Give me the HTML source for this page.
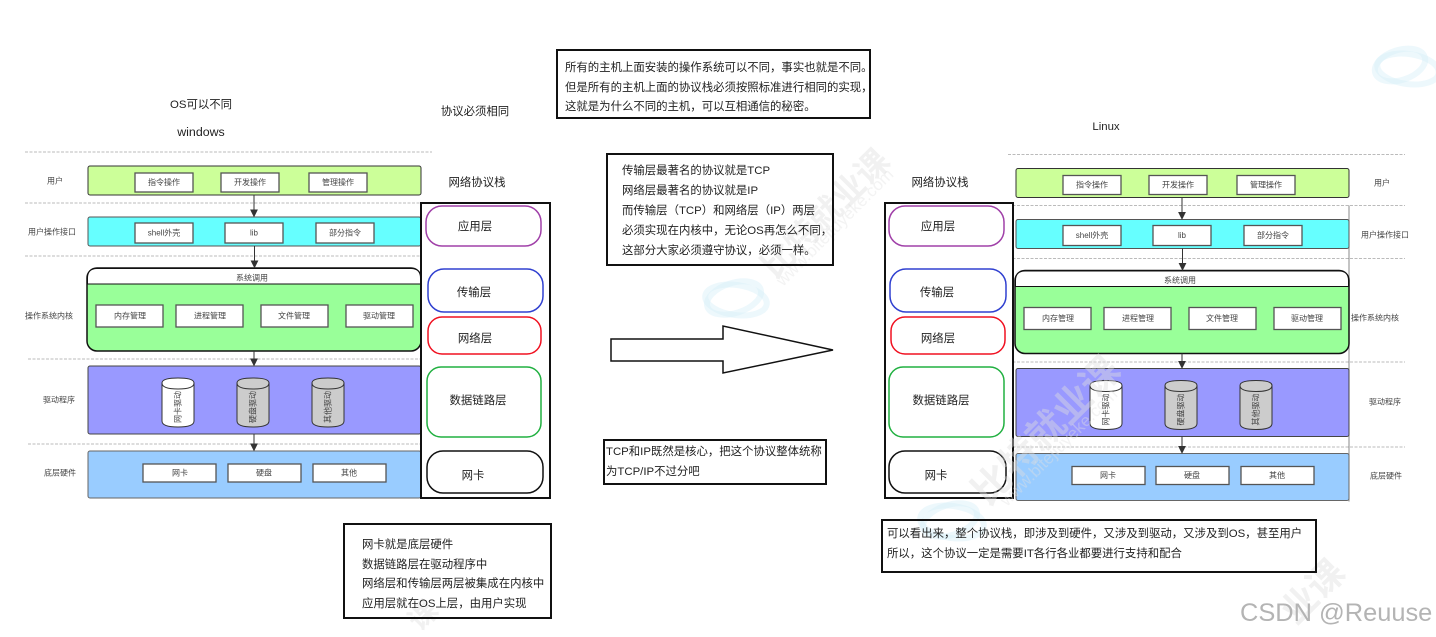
<!DOCTYPE html>
<html><head><meta charset="utf-8">
<style>
html,body{margin:0;padding:0;background:#fff;width:1436px;height:637px;overflow:hidden}
svg{display:block}
text{font-family:"Liberation Sans","Noto Sans CJK SC",sans-serif;fill:#222}
.s{font-size:8px;fill:#444;text-anchor:middle;dominant-baseline:central}
.m{font-size:11.4px;dominant-baseline:central;transform:translateY(1px)}
.c{font-size:11.4px;text-anchor:middle;dominant-baseline:central;transform:translateY(1px)}
.b{fill:#fff;stroke:#555;stroke-width:1.3}
.d{stroke:#bbb;stroke-width:1;stroke-dasharray:3 1.5;fill:none}
.bar{stroke:#333;stroke-width:1}
.t{fill:none;stroke:#111;stroke-width:2}
.w{font-weight:bold;fill:rgba(222,222,222,.42)}
.u{fill:rgba(225,225,225,.4);font-size:17px}
.a{stroke:#333;stroke-width:1;fill:none}
</style></head><body>
<svg width="1436" height="637" viewBox="0 0 1436 637" xmlns="http://www.w3.org/2000/svg">
<defs><marker id="ah" markerWidth="8" markerHeight="8" refX="5" refY="3" orient="auto" markerUnits="userSpaceOnUse" viewBox="0 0 6 6"><path d="M0 0L6 3L0 6z" fill="#333"/></marker></defs>

<!-- left diagram -->
<g>
<path class="d" d="M25 152H432M25 203H420M25 256H420M28 359H420M28 444H420"/>
<rect class="bar" x="88" y="166" width="333" height="29" rx="2" fill="#ccff99"/>
<rect class="b" x="135" y="173" width="58" height="19"/><text class="s" x="164" y="182.5">指令操作</text>
<rect class="b" x="221" y="173" width="58" height="19"/><text class="s" x="250" y="182.5">开发操作</text>
<rect class="b" x="309" y="173" width="58" height="19"/><text class="s" x="338" y="182.5">管理操作</text>
<rect x="88" y="217" width="333" height="29" rx="2" fill="#66ffff" stroke="#555"/>
<rect class="b" x="135" y="223" width="58" height="20"/><text class="s" x="164" y="233">shell外壳</text>
<rect class="b" x="225" y="223" width="58" height="20"/><text class="s" x="254" y="233">lib</text>
<rect class="b" x="316" y="223" width="58" height="20"/><text class="s" x="345" y="233">部分指令</text>
<rect x="87" y="268" width="334" height="83" rx="10" fill="#99ff99" stroke="#111" stroke-width="1.5"/>
<path d="M87.5 284V278Q87.5 268.500 97 268.500H411Q420.500 268.500 420.500 278V284Z" fill="#fff" stroke="#111"/>
<text class="s" x="252" y="278">系统调用</text>
<rect class="b" x="96" y="305" width="67" height="22"/><text class="s" x="130" y="316">内存管理</text>
<rect class="b" x="176" y="305" width="67" height="22"/><text class="s" x="210" y="316">进程管理</text>
<rect class="b" x="261" y="305" width="67" height="22"/><text class="s" x="294" y="316">文件管理</text>
<rect class="b" x="346" y="305" width="67" height="22"/><text class="s" x="379" y="316">驱动管理</text>
<rect x="88" y="366" width="333" height="68" rx="2" fill="#9999ff" stroke="#444"/>
<path d="M162 383V421Q162 427 178 427Q194 427 194 421V383Q194 378 178 378Q162 378 162 383ZM162 383Q162 389 178 389Q194 389 194 383" fill="#fff" stroke="#333"/>
<path d="M237 383V421Q237 427 253 427Q269 427 269 421V383Q269 378 253 378Q237 378 237 383ZM237 383Q237 389 253 389Q269 389 269 383" fill="#ccc" stroke="#333"/>
<path d="M312 383V421Q312 427 328 427Q344 427 344 421V383Q344 378 328 378Q312 378 312 383ZM312 383Q312 389 328 389Q344 389 344 383" fill="#ccc" stroke="#333"/>
<text class="s" transform="translate(178,407) rotate(-90)">网卡驱动</text>
<text class="s" transform="translate(253,407) rotate(-90)">硬盘驱动</text>
<text class="s" transform="translate(328,407) rotate(-90)">其他驱动</text>
<rect x="88" y="451" width="333" height="47" rx="2" fill="#99ccff" stroke="#666"/>
<rect class="b" x="143" y="464" width="73" height="18"/><text class="s" x="180" y="473">网卡</text>
<rect class="b" x="228" y="464" width="73" height="18"/><text class="s" x="264" y="473">硬盘</text>
<rect class="b" x="313" y="464" width="73" height="18"/><text class="s" x="349" y="473">其他</text>
<path class="a" d="M254 195V216" marker-end="url(#ah)"/><path class="a" d="M254.500 246V267" marker-end="url(#ah)"/><path class="a" d="M254 351V365" marker-end="url(#ah)"/><path class="a" d="M254 434V450" marker-end="url(#ah)"/>
<text class="s" x="55" y="181">用户</text><text class="s" x="52" y="232">用户操作接口</text><text class="s" x="49" y="316">操作系统内核</text><text class="s" x="59" y="400">驱动程序</text><text class="s" x="60" y="473">底层硬件</text>
</g>

<!-- right diagram -->
<g transform="translate(928,2.500)">
<path class="d" d="M80 152H477M80 203H477M80 256H477M80 359.500H477M80 444.500H477"/>
<path d="M421 203V499" stroke="#888" fill="none"/>
<rect class="bar" x="88" y="166" width="333" height="29" rx="2" fill="#ccff99"/>
<rect class="b" x="135" y="173" width="58" height="19"/><text class="s" x="164" y="182.5">指令操作</text>
<rect class="b" x="221" y="173" width="58" height="19"/><text class="s" x="250" y="182.5">开发操作</text>
<rect class="b" x="309" y="173" width="58" height="19"/><text class="s" x="338" y="182.5">管理操作</text>
<rect x="88" y="217" width="333" height="29" rx="2" fill="#66ffff" stroke="#555"/>
<rect class="b" x="135" y="223" width="58" height="20"/><text class="s" x="164" y="233">shell外壳</text>
<rect class="b" x="225" y="223" width="58" height="20"/><text class="s" x="254" y="233">lib</text>
<rect class="b" x="316" y="223" width="58" height="20"/><text class="s" x="345" y="233">部分指令</text>
<rect x="87" y="268" width="334" height="83" rx="10" fill="#99ff99" stroke="#111" stroke-width="1.5"/>
<path d="M87.5 284V278Q87.5 268.500 97 268.500H411Q420.500 268.500 420.500 278V284Z" fill="#fff" stroke="#111"/>
<text class="s" x="252" y="278">系统调用</text>
<rect class="b" x="96" y="305" width="67" height="22"/><text class="s" x="130" y="316">内存管理</text>
<rect class="b" x="176" y="305" width="67" height="22"/><text class="s" x="210" y="316">进程管理</text>
<rect class="b" x="261" y="305" width="67" height="22"/><text class="s" x="294" y="316">文件管理</text>
<rect class="b" x="346" y="305" width="67" height="22"/><text class="s" x="379" y="316">驱动管理</text>
<rect x="88" y="366" width="333" height="68" rx="2" fill="#9999ff" stroke="#444"/>
<path d="M162 383V421Q162 427 178 427Q194 427 194 421V383Q194 378 178 378Q162 378 162 383ZM162 383Q162 389 178 389Q194 389 194 383" fill="#fff" stroke="#333"/>
<path d="M237 383V421Q237 427 253 427Q269 427 269 421V383Q269 378 253 378Q237 378 237 383ZM237 383Q237 389 253 389Q269 389 269 383" fill="#ccc" stroke="#333"/>
<path d="M312 383V421Q312 427 328 427Q344 427 344 421V383Q344 378 328 378Q312 378 312 383ZM312 383Q312 389 328 389Q344 389 344 383" fill="#ccc" stroke="#333"/>
<rect x="88" y="451" width="333" height="47" rx="2" fill="#99ccff" stroke="#666"/>
<rect class="b" x="144" y="464" width="73" height="18"/><text class="s" x="180" y="473">网卡</text>
<rect class="b" x="228" y="464" width="73" height="18"/><text class="s" x="264" y="473">硬盘</text>
<rect class="b" x="313" y="464" width="73" height="18"/><text class="s" x="349" y="473">其他</text>
<path class="a" d="M254 195V216" marker-end="url(#ah)"/><path class="a" d="M254.500 246V267" marker-end="url(#ah)"/><path class="a" d="M254 351V365" marker-end="url(#ah)"/><path class="a" d="M254 434V450" marker-end="url(#ah)"/>
<text class="s" x="454" y="180.500">用户</text><text class="s" x="457" y="232.500">用户操作接口</text><text class="s" x="447" y="315.500">操作系统内核</text><text class="s" x="457" y="399.500">驱动程序</text><text class="s" x="458" y="473.500">底层硬件</text>
</g>

<!-- left stack -->
<rect x="421" y="203" width="129" height="295" fill="#fff" stroke="#111" stroke-width="2"/>
<rect x="426" y="206" width="115" height="40" rx="16" fill="#fff" stroke="#a040a8" stroke-width="1.500"/>
<rect x="428" y="269" width="115" height="43" rx="16" fill="#fff" stroke="#3040d0" stroke-width="1.500"/>
<rect x="428" y="317" width="113" height="37" rx="14" fill="#fff" stroke="#f01020" stroke-width="1.500"/>
<rect x="427" y="367" width="114" height="70" rx="14" fill="#fff" stroke="#20b040" stroke-width="1.500"/>
<rect x="427" y="451" width="116" height="42" rx="16" fill="#fff" stroke="#111" stroke-width="1.500"/>
<text class="c" x="475" y="226">应用层</text><text class="c" x="474" y="292">传输层</text><text class="c" x="475" y="338">网络层</text><text class="c" x="478" y="400">数据链路层</text><text class="c" x="473" y="475">网卡</text>
<text class="c" x="477" y="182">网络协议栈</text><text class="c" x="475" y="111">协议必须相同</text>
<text class="c" x="201" y="104">OS可以不同</text><text class="c" x="201" y="131" style="font-size:12.4px">windows</text>

<!-- right stack -->
<rect x="885" y="203" width="128" height="295" fill="#fff" stroke="#111" stroke-width="2"/>
<rect x="889" y="206" width="115" height="40" rx="16" fill="#fff" stroke="#a040a8" stroke-width="1.500"/>
<rect x="890" y="269" width="116" height="43" rx="16" fill="#fff" stroke="#3040d0" stroke-width="1.500"/>
<rect x="891" y="317" width="114" height="37" rx="14" fill="#fff" stroke="#f01020" stroke-width="1.500"/>
<rect x="889" y="367" width="115" height="70" rx="14" fill="#fff" stroke="#20b040" stroke-width="1.500"/>
<rect x="889" y="451" width="117" height="42" rx="16" fill="#fff" stroke="#111" stroke-width="1.500"/>
<text class="c" x="938" y="226">应用层</text><text class="c" x="937" y="292">传输层</text><text class="c" x="938" y="338">网络层</text><text class="c" x="941" y="400">数据链路层</text><text class="c" x="936" y="475">网卡</text>
<text class="c" x="940" y="182">网络协议栈</text><text class="c" x="1106" y="126">Linux</text>

<!-- watermarks: above the diagrams, below the notes -->
<g fill="none" stroke="rgba(215,240,248,.45)" stroke-width="6">
<ellipse cx="736" cy="300" rx="31" ry="15" transform="rotate(8 736 300)"/>
<ellipse cx="734" cy="298" rx="28" ry="15" transform="rotate(-18 734 298)"/>
<ellipse cx="1408" cy="69" rx="31" ry="15" transform="rotate(8 1408 69)"/>
<ellipse cx="1400" cy="65" rx="26" ry="15" transform="rotate(-18 1400 65)"/>
<ellipse cx="952" cy="522" rx="32" ry="16" transform="rotate(8 952 522)"/>
<ellipse cx="950" cy="520" rx="28" ry="15" transform="rotate(-18 950 520)"/>
</g>
<text class="w" transform="translate(775,280) rotate(-45)" style="font-size:33px">比特就业课</text>
<text class="u" transform="translate(783,287) rotate(-45)">www.bitejiuyeke.com</text>
<text class="w" transform="translate(988,507) rotate(-45)" style="font-size:38px">比特就业课</text>
<text class="u" transform="translate(1007,507) rotate(-45)">www.bitejiuyeke.com</text>
<text class="w" transform="translate(1296,626) rotate(-45)" style="font-size:36px">业课</text>
<text class="w" transform="translate(420,632) rotate(-45)" style="font-size:28px">课</text>

<!-- labels kept crisp above the watermark -->
<g transform="translate(928,2.500)">
<text class="s" transform="translate(178,407) rotate(-90)">网卡驱动</text>
<text class="s" transform="translate(253,407) rotate(-90)">硬盘驱动</text>
<text class="s" transform="translate(328,407) rotate(-90)">其他驱动</text>
</g>

<!-- arrow -->
<path d="M611 339H723V326L833 350L723 373V361H611Z" fill="#fff" stroke="#111" stroke-width="1.500"/>

<!-- notes -->
<rect class="t" x="557" y="50" width="313" height="68"/>
<text class="m" x="565" y="67">所有的主机上面安装的操作系统可以不同，事实也就是不同。</text>
<text class="m" x="565" y="87">但是所有的主机上面的协议栈必须按照标准进行相同的实现，</text>
<text class="m" x="565" y="106">这就是为什么不同的主机，可以互相通信的秘密。</text>

<rect class="t" x="607" y="154" width="226" height="111"/>
<text class="m" x="622" y="170">传输层最著名的协议就是TCP</text>
<text class="m" x="622" y="190">网络层最著名的协议就是IP</text>
<text class="m" x="622" y="210">而传输层（TCP）和网络层（IP）两层</text>
<text class="m" x="622" y="230">必须实现在内核中，无论OS再怎么不同，</text>
<text class="m" x="622" y="250">这部分大家必须遵守协议，必须一样。</text>

<rect class="t" x="604" y="440" width="222" height="44"/>
<text class="m" x="606" y="451">TCP和IP既然是核心，把这个协议整体统称</text>
<text class="m" x="606" y="471">为TCP/IP不过分吧</text>

<rect class="t" x="344" y="524" width="207" height="94"/>
<text class="m" x="362" y="544">网卡就是底层硬件</text>
<text class="m" x="362" y="564">数据链路层在驱动程序中</text>
<text class="m" x="362" y="583">网络层和传输层两层被集成在内核中</text>
<text class="m" x="362" y="603">应用层就在OS上层，由用户实现</text>

<rect class="t" x="882" y="520" width="434" height="52"/>
<text class="m" x="887" y="533">可以看出来，整个协议栈，即涉及到硬件，又涉及到驱动，又涉及到OS，甚至用户</text>
<text class="m" x="887" y="553">所以，这个协议一定是需要IT各行各业都要进行支持和配合</text>

<text x="1240" y="621" style="font-size:25.4px;fill:#b4b4b4">CSDN @Reuuse</text>
</svg>
</body></html>
